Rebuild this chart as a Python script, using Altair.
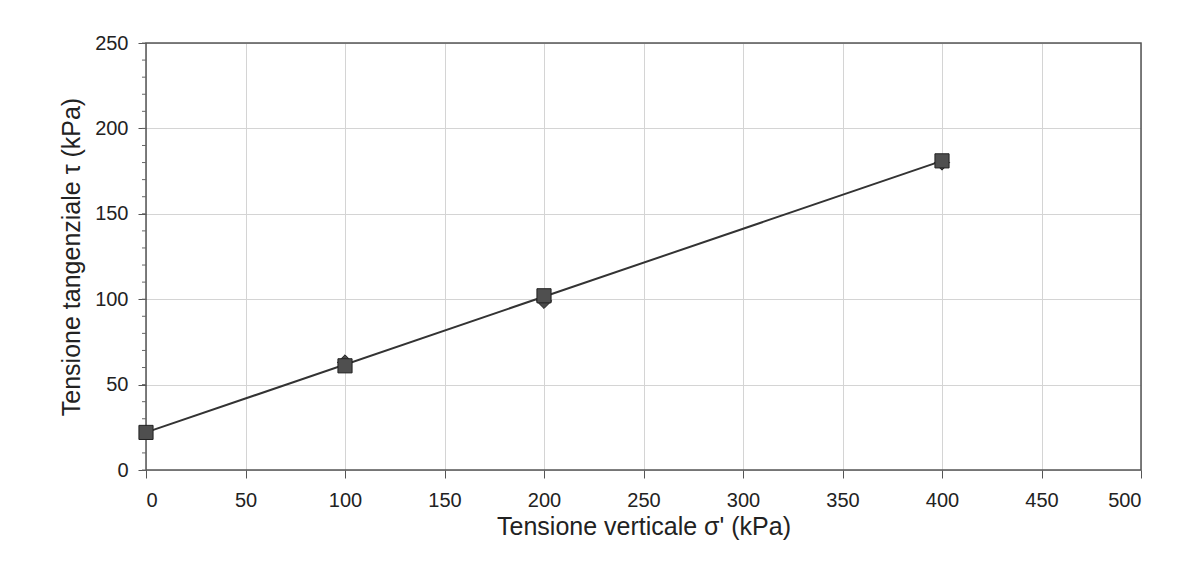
import altair as alt
import pandas as pd

# data
sq_x = [0, 100, 200, 400]
sq_y = [22, 61, 102, 181]
dm_x = [100, 200, 400]
dm_y = [63, 99, 180]
line_x = [0, 400]
line_y = [22, 181]
minor_y = list(range(0, 251, 10))
x_domain = [0, 500]
y_domain = [0, 250]

sq = pd.DataFrame({"x": sq_x, "y": sq_y})
dm = pd.DataFrame({"x": dm_x, "y": dm_y})
ln = pd.DataFrame({"x": line_x, "y": line_y})
mn = pd.DataFrame({"y": minor_y})
fr = pd.DataFrame({"x": [x_domain[0]], "x2": [x_domain[1]], "y": [y_domain[0]], "y2": [y_domain[1]]})

FONT = "Liberation Sans"
xs = alt.Scale(domain=x_domain, nice=False)
ys = alt.Scale(domain=y_domain, nice=False)

xaxis = alt.Axis(values=list(range(0, 501, 50)), title="Tensione verticale σ' (kPa)",
                 labelFont=FONT, labelFontSize=20, labelColor="#222", titleFont=FONT,
                 titleFontSize=25, titleFontWeight="normal", titleColor="#222",
                 domain=False, tickColor="#555", tickSize=8, labelPadding=12,
                 titlePadding=4, gridColor="#d4d4d4", gridWidth=1)
yaxis = alt.Axis(values=list(range(0, 251, 50)), title="Tensione tangenziale τ (kPa)",
                 labelFont=FONT, labelFontSize=20, labelColor="#222", titleFont=FONT,
                 titleFontSize=25, titleFontWeight="normal", titleColor="#222",
                 domain=False, tickColor="#555", tickSize=8, labelPadding=10,
                 titlePadding=10, gridColor="#d4d4d4", gridWidth=1)

base_line = alt.Chart(ln).mark_line(color="#333", strokeWidth=2).encode(
    x=alt.X("x:Q", scale=xs, axis=xaxis),
    y=alt.Y("y:Q", scale=ys, axis=yaxis),
)
frame = alt.Chart(fr).mark_rect(fill=None, stroke="#555", strokeWidth=1.5).encode(
    x=alt.X("x:Q", scale=xs), x2="x2:Q", y=alt.Y("y:Q", scale=ys), y2="y2:Q")
minor = alt.Chart(mn).mark_rule(color="#666", strokeWidth=1).encode(
    y=alt.Y("y:Q", scale=ys),
    x=alt.value(-4), x2=alt.value(0),
)
diam = alt.Chart(dm).mark_point(shape="diamond", filled=True, size=230, color="#4a4a4a",
                                 stroke="#222", strokeWidth=1, opacity=1).encode(
    x=alt.X("x:Q", scale=xs), y=alt.Y("y:Q", scale=ys))
squares = alt.Chart(sq).mark_point(shape="square", filled=True, size=200, color="#4f4f4f",
                                    stroke="#222", strokeWidth=1, opacity=1).encode(
    x=alt.X("x:Q", scale=xs), y=alt.Y("y:Q", scale=ys))

chart = alt.layer(base_line, frame, minor, diam, squares).properties(
    width=995, height=427,
    autosize=alt.AutoSizeParams(type="none"),
    padding={"left": 138, "top": 35, "right": 40, "bottom": 90},
).configure_view(stroke=None).configure(background="white")

chart.save("out.html", embed_options={"renderer": "svg", "actions": False})
